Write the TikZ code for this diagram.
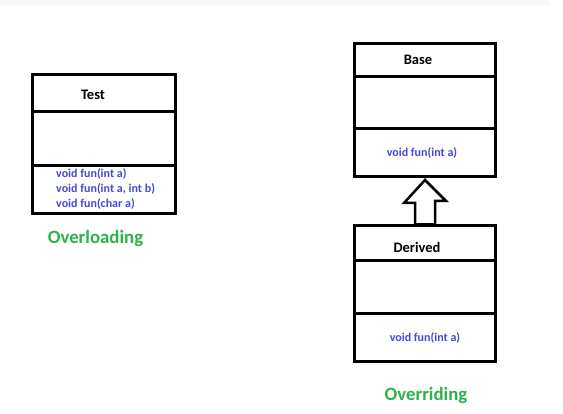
\documentclass[tikz,border=0pt]{standalone}
\usepackage{fontspec}
\setmainfont{Carlito}
\usetikzlibrary{calc}
\definecolor{methodblue}{RGB}{72,72,214}
\definecolor{labelgreen}{RGB}{46,176,74}
\definecolor{stripgray}{RGB}{248,248,248}
\begin{document}
\begin{tikzpicture}[x=1pt,y=-1pt,
  part/.style={draw=black,line width=3pt,fill=white,inner sep=0pt,outer sep=0pt,anchor=north},
  classname/.style={font=\bfseries\fontsize{14.5}{16}\selectfont,text=black,inner sep=0pt},
  method/.style={font=\bfseries\fontsize{12}{14}\selectfont,text=methodblue,inner sep=0pt},
  caption/.style={font=\bfseries\fontsize{18.8}{22}\selectfont,text=labelgreen,inner sep=0pt},
  inherit/.style={draw=black,line width=2.5pt,fill=white,line join=miter}]
\useasboundingbox (0,0) rectangle (563,414);
% light strip along the top edge
\fill[stripgray] (0,0) -- (555,0) arc[start angle=0,end angle=90,radius=5pt] -- (550,5) -- (0,5) -- cycle;

% class Test
\node[part,minimum width=143pt,minimum height=37.5pt] (tname) at (104,74.5) {};
\node[part,minimum width=143pt,minimum height=54pt] (tattr) at (tname.south) {};
\node[part,minimum width=143pt,minimum height=47.5pt] (tops) at (tattr.south) {};
\node[classname] (ttext) at (93,95) {Test};
\node[method,anchor=west] (tm1) at (56,174) {void fun(int a)};
\node[method,anchor=west] (tm2) at (56,189) {void fun(int a, int b)};
\node[method,anchor=west] (tm3) at (56,204) {void fun(char a)};
\node[caption] (overloading) at (95.5,238) {Overloading};

% class Base
\node[part,minimum width=141pt,minimum height=33.5pt] (bname) at (425,43.5) {};
\node[part,minimum width=141pt,minimum height=52pt] (battr) at (bname.south) {};
\node[part,minimum width=141pt,minimum height=48pt] (bops) at (battr.south) {};
\node[classname] (btext) at (418,60) {Base};
\node[method] (bm1) at (422,153) {void fun(int a)};

% class Derived
\node[part,minimum width=141pt,minimum height=35.5pt] (dname) at (425,225.5) {};
\node[part,minimum width=141pt,minimum height=53pt] (dattr) at (dname.south) {};
\node[part,minimum width=141pt,minimum height=48pt] (dops) at (dattr.south) {};
\node[classname] (dtext) at (417,247) {Derived};
\node[method] (dm1) at (425,338) {void fun(int a)};
\node[caption] (overriding) at (426,395) {Overriding};

% hollow inheritance arrow from Derived up to Base
\coordinate (tip) at ($(bops.south)+(0,3)$);
\coordinate (foot) at (dname.north);
\draw[inherit] (tip) -- ++(21,21) -- ++(-11,0) |- ($(foot)+(-10,-1)$) -- ++(0,-21.5) -- ++(-11,0) -- cycle;
\end{tikzpicture}
\end{document}
